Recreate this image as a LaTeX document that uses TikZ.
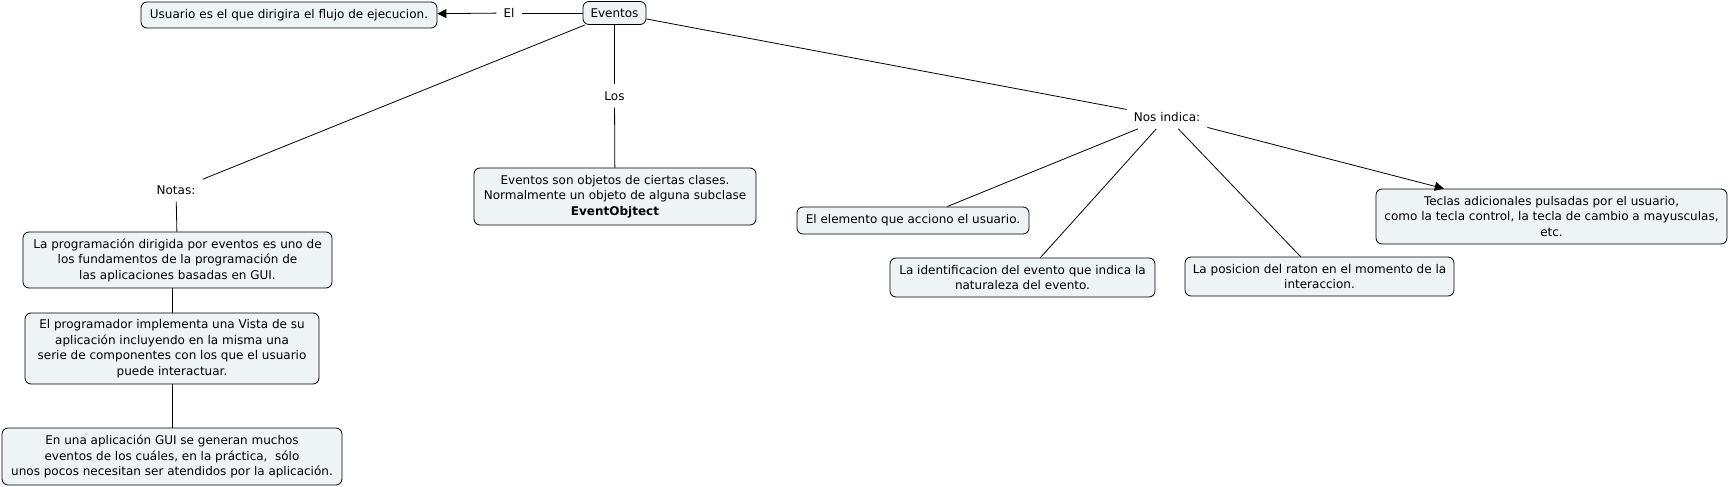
\documentclass[tikz,border=0pt]{standalone}
\usepackage{fontspec}
\setmainfont{DejaVu Sans}
\usetikzlibrary{arrows.meta}
\definecolor{cajafondo}{HTML}{EEF3F5}
\begin{document}
\begin{tikzpicture}[x=1pt,y=-1pt,
		caja/.style={draw, line width=0.8pt, rounded corners=6pt, fill=cajafondo, align=center, inner sep=2pt, font=\fontsize{12}{15.5}\selectfont},
		etiqueta/.style={inner sep=7pt, font=\fontsize{12}{15.5}\selectfont},
		enlace/.style={line width=0.8pt},
		flecha/.style={line width=0.8pt, -{Triangle[length=9pt,width=9pt]}}]
	\useasboundingbox (0,0) rectangle (1729,487);
	% concepto central
	\node[caja, minimum width=63pt, minimum height=23pt] (eventos) at (614.5,13) {Eventos};
	\node[caja, minimum width=296pt, minimum height=26pt] (usuario) at (289,15) {Usuario es el que dirigira el flujo de ejecucion.};
	\node[caja, minimum width=282pt, minimum height=57pt] (objetos) at (615,196.5) {Eventos son objetos de ciertas clases.\\ Normalmente un objeto de alguna subclase\\ \textbf{EventObjtect}};
	% palabras de enlace
	\node[etiqueta] (el) at (509,13) {El};
	\node[etiqueta] (los) at (614.5,96) {Los};
	\node[etiqueta] (notas) at (176,190) {Notas:};
	\node[etiqueta] (nos) at (1167,117) {Nos indica:};
	% notas
	\node[caja, minimum width=309pt, minimum height=56pt] (nota1) at (177.5,260) {La programación dirigida por eventos es uno de\\ los fundamentos de la programación de\\ las aplicaciones basadas en GUI.};
	\node[caja, minimum width=294pt, minimum height=71pt] (nota2) at (172,348.5) {El programador implementa una Vista de su\\ aplicación incluyendo en la misma una\\ serie de componentes con los que el usuario\\ puede interactuar.};
	\node[caja, minimum width=340pt, minimum height=57pt] (nota3) at (172,456.5) {En una aplicación GUI se generan muchos\\ eventos de los cuáles, en la práctica,\ \ sólo\\ unos pocos necesitan ser atendidos por la aplicación.};
	% lo que nos indica
	\node[caja, minimum width=232pt, minimum height=27pt] (elemento) at (913,220.5) {El elemento que acciono el usuario.};
	\node[caja, minimum width=265pt, minimum height=39pt] (ident) at (1022.5,277.5) {La identificacion del evento que indica la\\ naturaleza del evento.};
	\node[caja, minimum width=269pt, minimum height=39pt] (posicion) at (1319.5,276.5) {La posicion del raton en el momento de la\\ interaccion.};
	\node[caja, minimum width=351pt, minimum height=55pt] (teclas) at (1551.5,216.5) {Teclas adicionales pulsadas por el usuario,\\ como la tecla control, la tecla de cambio a mayusculas,\\ etc.};
	% conexiones
	\draw[enlace] (eventos) -- (el);
	\draw[flecha] (el) -- (usuario);
	\draw[enlace] (eventos) -- (los);
	\draw[enlace] (los) -- (objetos);
	\draw[enlace] (eventos) -- (notas);
	\draw[enlace] (notas) -- (nota1);
	\draw[enlace] (nota2) -- (nota2 |- nota1.south);
	\draw[enlace] (nota3) -- (nota3 |- nota2.south);
	\draw[enlace] (eventos) -- (nos);
	\draw[enlace] (nos) -- (elemento);
	\draw[enlace] (nos) -- (ident);
	\draw[enlace] (nos) -- (posicion);
	\draw[flecha] (nos) -- (teclas);
\end{tikzpicture}
\end{document}
